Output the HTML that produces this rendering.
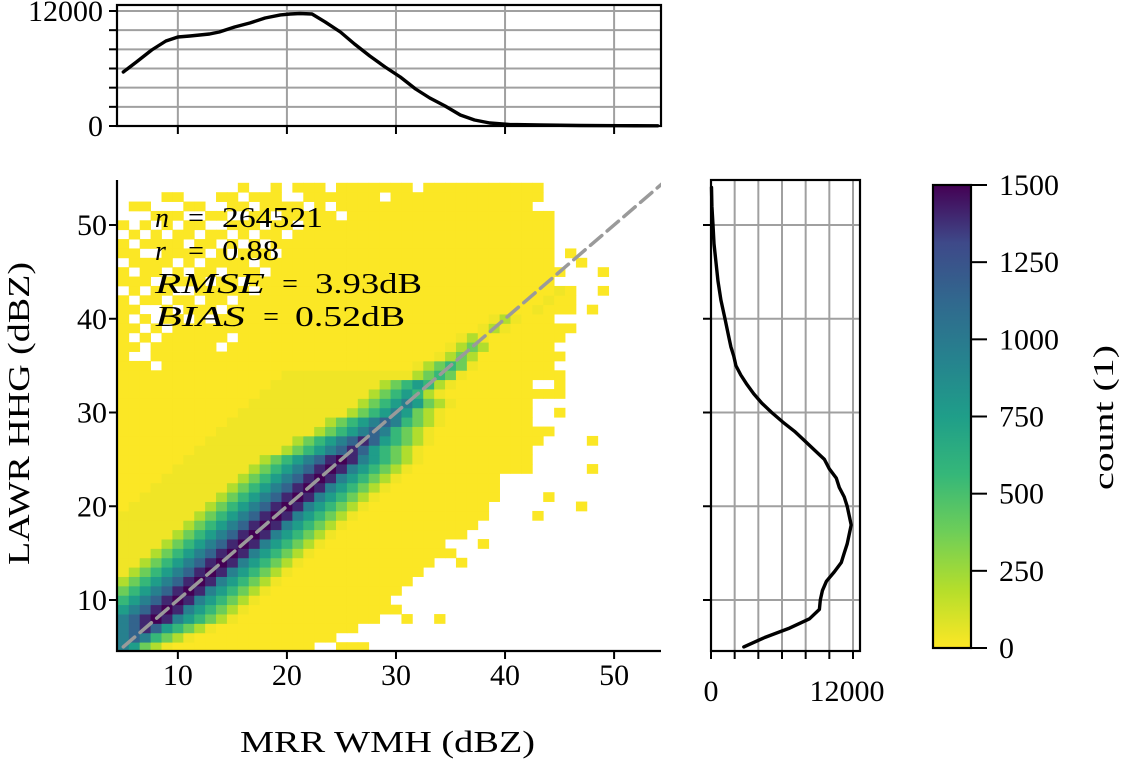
<!DOCTYPE html>
<html><head><meta charset="utf-8">
<style>
html,body{margin:0;padding:0;background:#fff;}
svg{display:block;font-family:"Liberation Serif","DejaVu Serif",serif;}
</style></head>
<body>
<svg id="chart" width="1121" height="761" viewBox="0 0 1121 761" xmlns="http://www.w3.org/2000/svg">
<defs>
<linearGradient id="viridis" x1="0" y1="1" x2="0" y2="0">
<stop offset="0" stop-color="#fde725"/><stop offset="0.125" stop-color="#b5de2b"/><stop offset="0.25" stop-color="#6ece58"/><stop offset="0.375" stop-color="#35b779"/><stop offset="0.5" stop-color="#1f9e89"/><stop offset="0.625" stop-color="#26828e"/><stop offset="0.75" stop-color="#31688e"/><stop offset="0.875" stop-color="#3e4989"/><stop offset="1" stop-color="#440154"/>
</linearGradient>
<clipPath id="mainclip"><rect x="117" y="180" width="544" height="471"/></clipPath>
</defs>
<g id="gmain"></g>
<g id="gtop"></g>
<g id="gright"></g>
<g id="gcbar"></g>
</svg>
<script>
// ---------- data ----------
const binStart = 4.5;
const levelCounts = [5, 35, 200, 380, 560, 760, 950, 1150, 1400, 1500];
const histRows = [
"653210000000000000..000...........................",
"67643210000000000000..............................",
"6787543210000000000000............................",
"678986543210000000000000..0..0....................",
"56789865432100000000000000........................",
"4567898654321000000000000.........................",
"34567898654321000000000000........................",
"234567898654321000000000000.......................",
"1234567898654321000000000000......................",
"11234567898654321000000000000..0..................",
"1112345678986543210000000000000...................",
"111123456789865432100000000000...0................",
"11111234567898654321000000000000..................",
"111111234567898654321000000000000.................",
"1111111234567898654321000000000000....0...........",
"0111111123456789865432100000000000........0.......",
"00111111123456789865432100000000000....0..........",
"00011111112345678986543210000000000...............",
"00001111111234567898654321000000000...............",
"00000111111123456789865432100000000000.....0......",
"00000011111112345678986543210000000000............",
"00000001111111123456787543210000000000............",
"000000001111111123456787543210000000000....0......",
"0000000001111111112345676432100000000000..........",
"00000000001111111112345676432100000000............",
"00000000000111111111123456532100000000..0.........",
"00000000000011111111112345653210000000............",
"00000000000001111111111234542100000000000.........",
"00000000000000111111111123454210000000..0.........",
"00000000000000011111111111123431000000000.........",
"000.000000000000000000000001234310000000..........",
"0..00000000000000000000000000123200000000.........",
"00.000000.000000000000000000001232000000..........",
"0.0.000000.000000000000000000001210000000.........",
"00.0.0000000000000000000000000000121000000........",
"0.0.00.0.0000000000000000000000000121000..........",
"00..0.000.00000000000000000000000000001000.0......",
"0.00.00.00.0000000000000000000000000000100........",
".0.00..00000.00000000000000000000000000010..0.....",
"000.0000.00.0000000000000000000000000000..........",
"0.00.0.00.000.000000000000000000000000000...0.....",
".0000.0.0000.000000000000000000000000000..0.......",
"00..0000.0.000.0000000000000000000000000.0........",
"0.0000.00.0.0.00000000000000000000000000..........",
".0.0.00.00.0.00.000000000000000000000000..........",
"0.0.0.00..000.00.00000000000000000000000..........",
"...000..00..00.00000.0000000000000000000..........",
".00...00..00.0000.0.000000000000000000............",
"....00...00.000..0000000.00000000000000...........",
"...........0..0.000.0000000.00000000000..........."
];
const topX = [5,6.2,7.6,8.9,10,11.1,12,12.9,13.8,15.2,16.6,18,19.4,20.3,21.2,22.3,23.5,24.9,26.2,27.6,29,30.4,31.8,33.1,34.5,35.9,37.2,38.6,40.4,43.2,46.9,50.5,54];
const topCount = [5640,6680,7930,8870,9290,9390,9500,9600,9810,10330,10750,11270,11590,11690,11740,11690,10860,9810,8560,7300,6160,5110,3860,2920,2090,1150,630,310,160,100,50,30,20];
const rightY = [5,6,7,8,9,10,11,12,13,14,15,16,17,18,19,20,21,22,23,24,25,26,27,28,29,30,31,32,33,34,35,36,37,38,40,42,44,46,48,50,52,54];
const rightCount = [2770,4540,6640,8320,9160,9240,9410,9750,10420,11010,11260,11510,11680,11850,11680,11510,11260,10840,10590,10000,9580,8740,7900,7060,6050,5130,4290,3610,3030,2520,2100,1930,1680,1510,1180,840,590,420,250,170,80,40];
const mainTicks = [10,20,30,40,50];
const countTicks = [0,2000,4000,6000,8000,10000,12000];
const cbarTicks = [0,250,500,750,1000,1250,1500];
const statNames = ["n","r","RMSE","BIAS"];
const statValues = ["264521","0.88","3.93dB","0.52dB"];

// ---------- scales ----------
const X0=117,X1=661,Y0=180,Y1=651, DMIN=4.42, DMAX=54.3, YMIN=4.56, YMAX=54.8;
const sx = v => X0 + (v-DMIN)/(DMAX-DMIN)*(X1-X0);
const sy = v => Y1 - (v-YMIN)/(YMAX-YMIN)*(Y1-Y0);
const TY0=5, TY1=126, tsy = c => 126 - c/12000*115;
const RX0=711, RX1=860, rsx = c => 711 + c/12000*142;
const CX0=933, CX1=971, CY0=185, CY1=648, csy = c => CY1 - c/1500*(CY1-CY0);
const FS=30;
const NS="http://www.w3.org/2000/svg";
function el(tag, attrs, parent){const e=document.createElementNS(NS,tag);for(const k in attrs)e.setAttribute(k,attrs[k]);parent.appendChild(e);return e;}
const vstops=[[0,[253,231,37]],[0.125,[181,222,43]],[0.25,[110,206,88]],[0.375,[53,183,121]],[0.5,[31,158,137]],[0.625,[38,130,142]],[0.75,[49,104,142]],[0.875,[62,73,137]],[1,[68,1,84]]];
function viridisR(t){t=Math.max(0,Math.min(1,t));for(let i=1;i<vstops.length;i++){if(t<=vstops[i][0]){const a=vstops[i-1],b=vstops[i],f=(t-a[0])/(b[0]-a[0]);const c=a[1].map((v,k)=>Math.round(v+(b[1][k]-v)*f));return 'rgb('+c[0]+','+c[1]+','+c[2]+')';}}return 'rgb(68,1,84)';}

// ---------- main heatmap ----------
const gMain=document.getElementById('gmain');
const cells=el('g',{'clip-path':'url(#mainclip)'},gMain);


histRows.forEach((row,j)=>{
  for(let i=0;i<row.length && i<50;i++){
    const ch=row[i]; if(ch==='.') continue;
    const cnt=levelCounts[+ch];
    const x0=sx(binStart+i), x1=sx(binStart+i+1), y0=sy(binStart+j+1), y1=sy(binStart+j);
    const r=el('rect',{x:x0.toFixed(2),y:y0.toFixed(2),width:(x1-x0+0.4).toFixed(2),height:(y1-y0+0.4).toFixed(2),fill:viridisR(cnt/1500)},cells);
    
    
  }
});
const dl=el('line',{x1:sx(5),y1:sy(5),x2:sx(54.5),y2:sy(54.5),stroke:'#9a9a9a','stroke-width':3.5,'stroke-dasharray':'15,7','stroke-linecap':'round','clip-path':'url(#mainclip)'},gMain);


const stats=el('g',{},gMain);


const nameW=[0,0,110,90], eqC=[196,196,290,271], valX=[222,222,315,295], valW=[101,57,107,110];
statNames.forEach((nm,k)=>{
  const y=227+k*33;
  const aAttrs={x:155,y:y,'font-size':28,'font-style':'italic'};
  if(nameW[k]){aAttrs.textLength=nameW[k];aAttrs.lengthAdjust='spacingAndGlyphs';}
  const a=el('text',aAttrs,stats); a.textContent=nm;
  const e=el('text',{x:eqC[k],y:y,'font-size':28,'text-anchor':'middle'},stats); e.textContent='=';
  const b=el('text',{x:valX[k],y:y,'font-size':28,textLength:valW[k],lengthAdjust:'spacingAndGlyphs'},stats); b.textContent=statValues[k];
});
const mframe=el('path',{d:'M'+X0+','+Y0+' V'+Y1+' H'+X1,fill:'none',stroke:'#000','stroke-width':2.2},gMain);


mainTicks.forEach(v=>{
  el('line',{x1:sx(v),y1:Y1,x2:sx(v),y2:Y1+8,stroke:'#000','stroke-width':2},gMain);
  const tx=el('text',{x:sx(v),y:Y1+34,'font-size':FS,'text-anchor':'middle'},gMain);tx.textContent=v;
  
  
  el('line',{x1:X0-8,y1:sy(v),x2:X0,y2:sy(v),stroke:'#000','stroke-width':2},gMain);
  const ty=el('text',{x:X0-10,y:sy(v)+10,'font-size':FS,'text-anchor':'end'},gMain);ty.textContent=v;
  
  
});
const xt=el('text',{x:240,y:752,'font-size':31,textLength:295,lengthAdjust:'spacingAndGlyphs'},gMain);xt.textContent='MRR WMH (dBZ)';


const yt=el('text',{x:0,y:0,'font-size':31,textLength:303,lengthAdjust:'spacingAndGlyphs',transform:'translate(29,565) rotate(-90)'},gMain);yt.textContent='LAWR HHG (dBZ)';



// ---------- top marginal ----------
const gTop=document.getElementById('gtop');
countTicks.forEach(c=>{
  el('line',{x1:X0,y1:tsy(c),x2:X1,y2:tsy(c),stroke:'#a0a0a0','stroke-width':2},gTop);
  el('line',{x1:X0-8,y1:tsy(c),x2:X0,y2:tsy(c),stroke:'#000','stroke-width':2},gTop);
});
mainTicks.forEach(v=>{
  el('line',{x1:sx(v),y1:TY0,x2:sx(v),y2:TY1,stroke:'#a0a0a0','stroke-width':2},gTop);
  el('line',{x1:sx(v),y1:TY1,x2:sx(v),y2:TY1+8,stroke:'#000','stroke-width':2},gTop);
});
[[0,'0'],[12000,'12000']].forEach(p=>{const t=el('text',{x:X0-14,y:tsy(p[0])+10,'font-size':FS,'text-anchor':'end'},gTop);t.textContent=p[1];

});
const tl=el('polyline',{points:topX.map((x,k)=>sx(x).toFixed(1)+','+tsy(topCount[k]).toFixed(1)).join(' '),fill:'none',stroke:'#000','stroke-width':3.4,'stroke-linejoin':'round','stroke-linecap':'round'},gTop);


const tf=el('rect',{x:X0,y:TY0,width:X1-X0,height:TY1-TY0,fill:'none',stroke:'#000','stroke-width':2.2},gTop);



// ---------- right marginal ----------
const gRight=document.getElementById('gright');
countTicks.forEach(c=>{
  el('line',{x1:rsx(c),y1:Y0,x2:rsx(c),y2:Y1,stroke:'#a0a0a0','stroke-width':2},gRight);
  el('line',{x1:rsx(c),y1:Y1,x2:rsx(c),y2:Y1+8,stroke:'#000','stroke-width':2},gRight);
});
mainTicks.forEach(v=>{
  el('line',{x1:RX0,y1:sy(v),x2:RX1,y2:sy(v),stroke:'#a0a0a0','stroke-width':2},gRight);
  el('line',{x1:RX0-8,y1:sy(v),x2:RX0,y2:sy(v),stroke:'#000','stroke-width':2},gRight);
});
[[0,'0'],[12000,'12000']].forEach(p=>{const t=el('text',{x:rsx(p[0])-(p[0]?6:0),y:Y1+50,'font-size':FS,'text-anchor':'middle'},gRight);t.textContent=p[1];

});
const rl=el('polyline',{points:rightY.map((y,k)=>rsx(rightCount[k]).toFixed(1)+','+sy(y).toFixed(1)).join(' '),fill:'none',stroke:'#000','stroke-width':3.4,'stroke-linejoin':'round','stroke-linecap':'round'},gRight);


const rf=el('rect',{x:RX0,y:Y0,width:RX1-RX0,height:Y1-Y0,fill:'none',stroke:'#000','stroke-width':2.2},gRight);



// ---------- colorbar ----------
const gCb=document.getElementById('gcbar');
const cr=el('rect',{x:CX0,y:CY0,width:CX1-CX0,height:CY1-CY0,fill:'url(#viridis)',stroke:'#000','stroke-width':2.2},gCb);


cbarTicks.forEach(c=>{
  el('line',{x1:CX1,y1:csy(c),x2:CX1+16,y2:csy(c),stroke:'#000','stroke-width':2},gCb);
  const t=el('text',{x:CX1+28,y:csy(c)+10,'font-size':FS},gCb);t.textContent=c;
  
  
});
const cl=el('text',{x:0,y:0,'font-size':28,textLength:145,lengthAdjust:'spacingAndGlyphs',transform:'translate(1113,490) rotate(-90)'},gCb);cl.textContent='count (1)';


</script>
</body></html>
